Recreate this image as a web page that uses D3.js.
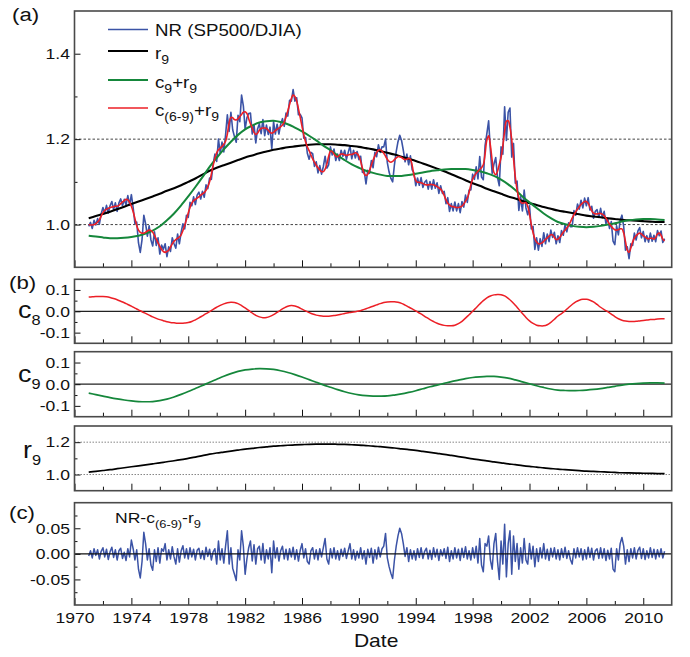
<!DOCTYPE html>
<html>
<head>
<meta charset="utf-8">
<script src="https://cdnjs.cloudflare.com/ajax/libs/d3/7.8.5/d3.min.js"></script>
<style>
  html, body { margin: 0; padding: 0; background: #fff; }
  svg text { font-family: "Liberation Sans", Arial, Helvetica, sans-serif; fill: #111; }
</style>
</head>
<body>
<svg id="chart" width="690" height="657"></svg>
<script>
// ---------------- data ----------------
const startYear = 1971;
const fineStep = 1 / 8;      // c(6-9)+r9 and residual
const quarterStep = 1 / 4;   // c8
const halfStep = 1 / 2;      // c9, r9

// c(6-9)+r9, one row per year (8 samples / year), 1971.0 .. 2011.5
const fitC69R9 = [
  1.000, 0.999, 0.999, 1.000, 1.002, 1.006, 1.011, 1.020,
  1.028, 1.033, 1.036, 1.038, 1.040, 1.041, 1.042, 1.043,
  1.043, 1.045, 1.049, 1.053, 1.056, 1.059, 1.058, 1.052,
  1.043, 1.030, 1.014, 0.998, 0.987, 0.982, 0.980, 0.980,
  0.982, 0.985, 0.987, 0.986, 0.982, 0.975, 0.966, 0.957,
  0.949, 0.942, 0.937, 0.935, 0.937, 0.940, 0.947, 0.955,
  0.961, 0.965, 0.968, 0.971, 0.976, 0.986, 0.998, 1.012,
  1.027, 1.040, 1.050, 1.056, 1.059, 1.062, 1.065, 1.069,
  1.072, 1.075, 1.080, 1.089, 1.100, 1.118, 1.138, 1.155,
  1.168, 1.175, 1.179, 1.183, 1.188, 1.195, 1.212, 1.238,
  1.251, 1.250, 1.246, 1.245, 1.248, 1.253, 1.258, 1.263,
  1.264, 1.260, 1.248, 1.236, 1.226, 1.216, 1.211, 1.214,
  1.221, 1.225, 1.226, 1.226, 1.225, 1.221, 1.216, 1.214,
  1.216, 1.220, 1.223, 1.226, 1.229, 1.233, 1.240, 1.252,
  1.266, 1.281, 1.295, 1.303, 1.300, 1.289, 1.271, 1.251,
  1.230, 1.210, 1.194, 1.182, 1.173, 1.163, 1.154, 1.146,
  1.139, 1.133, 1.128, 1.124, 1.124, 1.130, 1.142, 1.160,
  1.172, 1.171, 1.165, 1.160, 1.159, 1.162, 1.165, 1.165,
  1.163, 1.162, 1.163, 1.164, 1.164, 1.166, 1.168, 1.166,
  1.160, 1.148, 1.132, 1.119, 1.115, 1.118, 1.127, 1.139,
  1.151, 1.161, 1.169, 1.174, 1.175, 1.172, 1.167, 1.160,
  1.153, 1.148, 1.146, 1.148, 1.152, 1.156, 1.159, 1.159,
  1.157, 1.154, 1.152, 1.153, 1.155, 1.153, 1.138, 1.115,
  1.103, 1.099, 1.099, 1.098, 1.096, 1.094, 1.093, 1.093,
  1.094, 1.094, 1.093, 1.091, 1.089, 1.086, 1.083, 1.077,
  1.068, 1.058, 1.050, 1.046, 1.043, 1.042, 1.041, 1.040,
  1.040, 1.041, 1.043, 1.048, 1.055, 1.062, 1.075, 1.093,
  1.106, 1.114, 1.120, 1.125, 1.129, 1.133, 1.140, 1.165,
  1.198, 1.208, 1.185, 1.150, 1.122, 1.117, 1.125, 1.141,
  1.157, 1.185, 1.218, 1.242, 1.243, 1.228, 1.198, 1.155,
  1.112, 1.082, 1.063, 1.053, 1.050, 1.051, 1.051, 1.043,
  1.024, 1.000, 0.981, 0.967, 0.959, 0.955, 0.955, 0.957,
  0.961, 0.965, 0.969, 0.973, 0.976, 0.976, 0.970, 0.965,
  0.966, 0.970, 0.976, 0.982, 0.987, 0.992, 0.998, 1.006,
  1.015, 1.023, 1.030, 1.036, 1.042, 1.047, 1.051, 1.054,
  1.054, 1.050, 1.041, 1.032, 1.027, 1.025, 1.025, 1.026,
  1.026, 1.024, 1.021, 1.015, 1.008, 1.001, 0.996, 0.991,
  0.988, 0.987, 0.988, 0.990, 0.990, 0.980, 0.960, 0.940,
  0.935, 0.945, 0.959, 0.968, 0.974, 0.978, 0.980, 0.978,
  0.974, 0.971, 0.968, 0.967, 0.968, 0.968, 0.966, 0.970,
  0.978, 0.980, 0.975, 0.966, 0.962
];

// NR - c(6-9) - r9, same sampling as above
const residual = [
  -0.004, 0.006, -0.008, 0.010, -0.003, 0.008, -0.010, 0.005,
  0.012, -0.006, 0.009, -0.011, 0.004, 0.013, -0.007, 0.008,
  -0.012, 0.006, 0.011, -0.009, 0.003, -0.013, 0.010, -0.006,
  0.027, 0.010, -0.012, 0.008, -0.030, -0.047, -0.015, 0.042,
  0.020, -0.012, 0.010, -0.022, -0.032, 0.008, -0.015, 0.012,
  -0.018, 0.010, 0.005, 0.020, -0.012, 0.008, -0.010, 0.014,
  -0.006, -0.020, 0.010, -0.016, 0.006, 0.016, -0.008, 0.010,
  -0.010, 0.012, -0.006, 0.009, -0.012, 0.007, 0.011, -0.009,
  0.006, -0.011, 0.013, -0.005, 0.009, -0.012, 0.004, 0.010,
  -0.020, 0.025, -0.012, 0.010, -0.018, 0.015, 0.045, -0.020,
  0.012, -0.028, -0.040, -0.052, 0.008, -0.012, 0.045, 0.015,
  -0.040, -0.010, 0.012, 0.025, -0.014, 0.018, -0.020, 0.010,
  0.015, -0.012, 0.020, -0.018, 0.008, -0.010, 0.012, -0.037,
  0.025, -0.008, 0.012, -0.014, 0.006, 0.015, -0.010, 0.009,
  -0.012, 0.010, -0.006, 0.013, -0.011, 0.008, -0.014, 0.007,
  0.020, -0.008, 0.010, -0.015, -0.020, 0.006, 0.012, -0.010,
  0.008, -0.012, 0.010, -0.006, 0.012, 0.030, -0.010, -0.020,
  0.010, -0.008, 0.012, -0.010, 0.006, -0.012, 0.009, -0.005,
  0.011, -0.009, 0.006, 0.020, -0.010, 0.008, -0.012, 0.005,
  -0.008, 0.012, -0.010, 0.006, -0.020, 0.009, -0.007, 0.011,
  -0.018, 0.008, -0.010, 0.013, -0.006, 0.010, 0.015, 0.040,
  -0.008, -0.025, -0.038, -0.048, -0.012, 0.015, 0.035, 0.050,
  0.040, 0.020, -0.005, 0.012, -0.015, 0.008, -0.010, 0.006,
  -0.012, 0.010, -0.007, 0.012, -0.009, 0.005, 0.011, -0.010,
  0.007, -0.011, 0.012, -0.006, 0.009, -0.013, 0.008, -0.004,
  0.010, -0.009, 0.013, -0.015, 0.006, -0.010, 0.012, -0.008,
  0.009, -0.013, 0.011, -0.007, 0.014, -0.010, 0.006, -0.012,
  0.012, -0.008, 0.015, -0.018, 0.030, -0.022, -0.035, 0.020,
  0.015, 0.035, -0.012, -0.030, 0.020, 0.040, -0.015, -0.050,
  0.025, -0.020, 0.058, -0.045, 0.020, 0.045, -0.040, 0.035,
  -0.015, 0.020, -0.030, 0.012, -0.018, 0.030, -0.012, -0.020,
  0.020, -0.010, 0.015, -0.025, 0.010, -0.015, 0.012, -0.008,
  0.020, -0.010, 0.009, -0.013, 0.011, -0.006, 0.012, -0.010,
  0.008, -0.012, 0.010, -0.007, 0.013, -0.009, 0.006, -0.011,
  -0.020, 0.010, -0.008, 0.012, -0.006, 0.010, -0.012, 0.008,
  -0.010, 0.013, -0.007, 0.011, -0.012, 0.006, 0.010, -0.009,
  0.012, -0.008, 0.010, -0.013, 0.007, -0.010, 0.011, -0.030,
  -0.035, 0.010, -0.012, 0.020, 0.032, 0.015, -0.020, 0.008,
  -0.015, 0.010, -0.008, 0.012, -0.010, 0.007, 0.013, -0.009,
  0.010, -0.011, 0.006, -0.008, 0.012, -0.007, 0.009, -0.010,
  0.008, -0.006, 0.010, -0.008, 0.005
];

// c8, 4 samples / year
const c8 = [
  0.067, 0.068, 0.069, 0.069,
  0.069, 0.068, 0.065, 0.060,
  0.054, 0.047, 0.040, 0.032,
  0.024, 0.015, 0.007, -0.002,
  -0.010, -0.018, -0.026, -0.033,
  -0.039, -0.044, -0.049, -0.052,
  -0.054, -0.056, -0.056, -0.055,
  -0.053, -0.048, -0.040, -0.031,
  -0.021, -0.011, -0.002, 0.009,
  0.019, 0.028, 0.035, 0.040,
  0.042, 0.041, 0.036, 0.027,
  0.016, 0.004, -0.008, -0.019,
  -0.026, -0.030, -0.029, -0.024,
  -0.016, -0.005, 0.006, 0.016,
  0.024, 0.027, 0.025, 0.019,
  0.010, 0.002, -0.006, -0.013,
  -0.018, -0.021, -0.023, -0.023,
  -0.022, -0.020, -0.017, -0.014,
  -0.010, -0.007, -0.004, -0.002,
  0.001, 0.006, 0.012, 0.018,
  0.024, 0.030, 0.036, 0.041,
  0.044, 0.045, 0.045, 0.042,
  0.037, 0.029, 0.020, 0.011,
  0.002, -0.008, -0.018, -0.029,
  -0.039, -0.048, -0.056, -0.062,
  -0.066, -0.068, -0.068, -0.065,
  -0.058, -0.047, -0.032, -0.016,
  0.000, 0.017, 0.034, 0.050,
  0.063, 0.072, 0.077, 0.079,
  0.078, 0.072, 0.061, 0.046,
  0.028, 0.009, -0.010, -0.029,
  -0.045, -0.057, -0.065, -0.068,
  -0.068, -0.063, -0.052, -0.037,
  -0.022, -0.011, 0.002, 0.018,
  0.032, 0.044, 0.052, 0.056,
  0.056, 0.052, 0.044, 0.032,
  0.019, 0.008, -0.002, -0.013,
  -0.025, -0.035, -0.042, -0.046,
  -0.048, -0.048, -0.047, -0.045,
  -0.043, -0.041, -0.039, -0.038,
  -0.036, -0.035, -0.035
];

// c9, 2 samples / year
const c9 = [
  -0.041, -0.048, -0.055, -0.062, -0.068, -0.073, -0.077, -0.080,
  -0.081, -0.080, -0.076, -0.069, -0.059, -0.047, -0.034, -0.020,
  -0.006, 0.009, 0.023, 0.037, 0.049, 0.059, 0.066, 0.070,
  0.072, 0.071, 0.068, 0.062, 0.054, 0.044, 0.033, 0.021,
  0.009, -0.003, -0.014, -0.025, -0.035, -0.043, -0.049, -0.053,
  -0.055, -0.055, -0.054, -0.050, -0.045, -0.038, -0.030, -0.021,
  -0.012, -0.004, 0.004, 0.012, 0.019, 0.026, 0.031, 0.034,
  0.036, 0.036, 0.033, 0.028, 0.020, 0.011, 0.002, -0.007,
  -0.015, -0.022, -0.027, -0.029, -0.030, -0.029, -0.027, -0.024,
  -0.020, -0.015, -0.010, -0.004, 0.000, 0.003, 0.005, 0.006,
  0.006, 0.005
];

// r9 (residual trend), 2 samples / year
const r9 = [
  1.015, 1.020, 1.025, 1.030, 1.036, 1.042, 1.048, 1.054,
  1.060, 1.066, 1.072, 1.079, 1.085, 1.092, 1.100, 1.108,
  1.117, 1.126, 1.133, 1.139, 1.145, 1.151, 1.157, 1.162,
  1.167, 1.171, 1.175, 1.178, 1.181, 1.183, 1.185, 1.187,
  1.188, 1.188, 1.188, 1.187, 1.186, 1.184, 1.182, 1.179,
  1.176, 1.172, 1.168, 1.164, 1.159, 1.154, 1.149, 1.143,
  1.137, 1.131, 1.125, 1.118, 1.111, 1.104, 1.097, 1.091,
  1.084, 1.078, 1.072, 1.066, 1.061, 1.055, 1.050, 1.046,
  1.041, 1.037, 1.033, 1.030, 1.027, 1.024, 1.021, 1.019,
  1.017, 1.015, 1.013, 1.011, 1.010, 1.009, 1.008, 1.007,
  1.006, 1.006
];

const yearTicks = [1970, 1974, 1978, 1982, 1986, 1990, 1994, 1998, 2002, 2006, 2010];
const yearMinorTicks = [1972, 1976, 1980, 1984, 1988, 1992, 1996, 2000, 2004, 2008];

const ticksA = { major: [1.0, 1.2, 1.4], minor: [1.1, 1.3] };
const ticksC = { major: [-0.1, 0.0, 0.1], minor: [-0.05, 0.05] };
const ticksR = { major: [1.0, 1.2], minor: [1.1] };
const ticksRes = { major: [-0.05, 0.0, 0.05], minor: [-0.075, -0.025, 0.025, 0.075] };

// ---------------- layout ----------------
const SX = 1.17; // horizontal stretch of the lettering
const COLORS = { nr: "#3b53a6", red: "#ec1f26", green: "#15873b", black: "#000" };

const svg = d3.select("#chart");
const x = d3.scaleLinear().domain([1970, 2012]).range([74.5, 671.7]);
const X0 = x.range()[0], X1 = x.range()[1];

const layout = {
  a:   { top: 11,    bottom: 267.3, domain: [0.9, 1.5] },
  c8:  { top: 279.3, bottom: 343.3, domain: [-0.15, 0.15] },
  c9:  { top: 351.7, bottom: 416.7, domain: [-0.15, 0.15] },
  r9:  { top: 426,   bottom: 490.7, domain: [0.9, 1.3] },
  res: { top: 502.7, bottom: 605,   domain: [-0.1, 0.1] }
};
const y = {};
Object.keys(layout).forEach(k => {
  y[k] = d3.scaleLinear().domain(layout[k].domain).range([layout[k].bottom, layout[k].top]);
});

const defs = svg.append("defs");
Object.keys(layout).forEach(k => {
  defs.append("clipPath").attr("id", "clip-" + k).append("rect")
    .attr("x", X0).attr("y", layout[k].top)
    .attr("width", X1 - X0).attr("height", layout[k].bottom - layout[k].top);
});

// series with their sampling times
const tFine = fitC69R9.map((_, i) => startYear + i * fineStep);
const tQuarter = c8.map((_, i) => startYear + i * quarterStep);
const tHalf = r9.map((_, i) => startYear + i * halfStep);

const fitSeries = tFine.map((t, i) => [t, fitC69R9[i]]);
const resSeries = tFine.map((t, i) => [t, residual[i]]);
const nrSeries = tFine.map((t, i) => [t, fitC69R9[i] + residual[i]]);
const c8Series = tQuarter.map((t, i) => [t, c8[i]]);
const c9Series = tHalf.map((t, i) => [t, c9[i]]);
const r9Series = tHalf.map((t, i) => [t, r9[i]]);
const c9r9Series = tHalf.map((t, i) => [t, c9[i] + r9[i]]);

function drawLine(panel, data, color, width, curve) {
  const gen = d3.line().x(d => x(d[0])).y(d => y[panel](d[1])).curve(curve || d3.curveLinear);
  svg.append("path").datum(data)
    .attr("clip-path", `url(#clip-${panel})`)
    .attr("fill", "none").attr("stroke", color).attr("stroke-width", width)
    .attr("stroke-linejoin", "round").attr("d", gen);
}

function hLine(panel, v, color, width, dash) {
  svg.append("line")
    .attr("x1", X0).attr("x2", X1)
    .attr("y1", y[panel](v)).attr("y2", y[panel](v))
    .attr("stroke", color).attr("stroke-width", width)
    .attr("stroke-dasharray", dash || null);
}

// ---------------- panel (a) ----------------
hLine("a", 1.0, "#444", 1, "2.5,2");
hLine("a", 1.2, "#444", 1, "2.5,2");
drawLine("a", nrSeries, COLORS.nr, 1.6);
drawLine("a", r9Series, COLORS.black, 2.1, d3.curveCatmullRom);
drawLine("a", c9r9Series, COLORS.green, 2, d3.curveCatmullRom);
drawLine("a", fitSeries, COLORS.red, 1.6, d3.curveCatmullRom);

// ---------------- panel (b) ----------------
hLine("c8", 0, "#222", 1.3);
drawLine("c8", c8Series, COLORS.red, 1.5, d3.curveCatmullRom);
hLine("c9", 0, "#222", 1.3);
drawLine("c9", c9Series, COLORS.green, 1.7, d3.curveCatmullRom);
hLine("r9", 1.0, "#777", 0.9, "1.5,1.5");
hLine("r9", 1.2, "#777", 0.9, "1.5,1.5");
drawLine("r9", r9Series, COLORS.black, 1.7, d3.curveCatmullRom);

// ---------------- panel (c) ----------------
drawLine("res", resSeries, COLORS.nr, 1.5);
hLine("res", 0, "#111", 1.2);

// ---------------- axes ----------------
function styleAxis(g) {
  g.select(".domain").remove();
  g.attr("font-family", null).attr("font-size", 15);
  g.selectAll("line").attr("stroke", "#111").attr("stroke-width", 1);
}

function yAxis(panel, ticks, fmt) {
  const gMaj = svg.append("g").attr("transform", `translate(${X0},0)`)
    .call(d3.axisLeft(y[panel]).tickValues(ticks.major).tickSizeInner(-6).tickSizeOuter(0)
      .tickPadding(5).tickFormat(fmt));
  styleAxis(gMaj);
  gMaj.selectAll("text").attr("x", null).attr("fill", "#111")
    .attr("transform", `translate(-4.5,0) scale(${SX},1)`);
  const gMin = svg.append("g").attr("transform", `translate(${X0},0)`)
    .call(d3.axisLeft(y[panel]).tickValues(ticks.minor).tickSizeInner(-3).tickSizeOuter(0).tickFormat(""));
  styleAxis(gMin);
}

function xAxis(panel, labelled) {
  const base = layout[panel].bottom;
  const gMaj = svg.append("g").attr("transform", `translate(0,${base})`)
    .call(d3.axisBottom(x).tickValues(yearTicks).tickSizeInner(-7).tickSizeOuter(0)
      .tickPadding(7).tickFormat(labelled ? d3.format("d") : ""));
  styleAxis(gMaj);
  gMaj.selectAll("text").attr("fill", "#111").attr("transform", `scale(${SX},1)`);
  const gMin = svg.append("g").attr("transform", `translate(0,${base})`)
    .call(d3.axisBottom(x).tickValues(yearMinorTicks).tickSizeInner(-4).tickSizeOuter(0).tickFormat(""));
  styleAxis(gMin);
}

yAxis("a", ticksA, d => d.toFixed(1));
yAxis("c8", ticksC, d => d.toFixed(1));
yAxis("c9", ticksC, d => d.toFixed(1));
yAxis("r9", ticksR, d => d.toFixed(1));
yAxis("res", ticksRes, d => d.toFixed(2));
["a", "c8", "c9", "r9"].forEach(p => xAxis(p, false));
xAxis("res", true);

// frames
Object.keys(layout).forEach(k => {
  svg.append("rect")
    .attr("x", X0).attr("y", layout[k].top)
    .attr("width", X1 - X0).attr("height", layout[k].bottom - layout[k].top)
    .attr("fill", "none").attr("stroke", "#4a4a4a").attr("stroke-width", 1.6);
});

// ---------------- text ----------------
// parts: [string, isSubscript]
function richText(px, py, parts, size, subSize) {
  const t = svg.append("text")
    .attr("transform", `translate(${px},${py}) scale(${SX},1)`)
    .attr("font-size", size);
  let shifted = 0;
  parts.forEach(([s, sub]) => {
    const target = sub ? Math.round(size * 0.3) : 0;
    t.append("tspan").text(s)
      .attr("font-size", sub ? subSize : size)
      .attr("dy", target - shifted);
    shifted = target;
  });
  return t;
}

// panel letters
richText(12, 21, [["(a)", false]], 19);
richText(9, 289, [["(b)", false]], 19);
richText(9, 519, [["(c)", false]], 19);

// y titles
richText(18, 318, [["c", false], ["8", true]], 23, 14);
richText(18, 382, [["c", false], ["9", true]], 23, 14);
richText(23, 458, [["r", false], ["9", true]], 23, 14);

// x title
svg.append("text").attr("transform", `translate(${(X0 + X1) / 2 + 3},647) scale(${SX},1)`)
  .attr("text-anchor", "middle").attr("font-size", 18).text("Date");

// legend in panel (a)
const legendRows = [
  { parts: [["NR (SP500/DJIA)", false]], color: COLORS.nr, width: 1.5, ly: 29.5, ty: 36 },
  { parts: [["r", false], ["9", true]], color: COLORS.black, width: 2, ly: 51, ty: 59 },
  { parts: [["c", false], ["9", true], ["+r", false], ["9", true]], color: COLORS.green, width: 2, ly: 80, ty: 88 },
  { parts: [["c", false], ["(6-9)", true], ["+r", false], ["9", true]], color: COLORS.red, width: 1.5, ly: 108, ty: 116 }
];
legendRows.forEach(r => {
  svg.append("line").attr("x1", 108).attr("x2", 148).attr("y1", r.ly).attr("y2", r.ly)
    .attr("stroke", r.color).attr("stroke-width", r.width);
  richText(155, r.ty, r.parts, 16, 12);
});

// label in panel (c)
richText(115, 523, [["NR-c", false], ["(6-9)", true], ["-r", false], ["9", true]], 15, 11);
</script>
</body>
</html>
